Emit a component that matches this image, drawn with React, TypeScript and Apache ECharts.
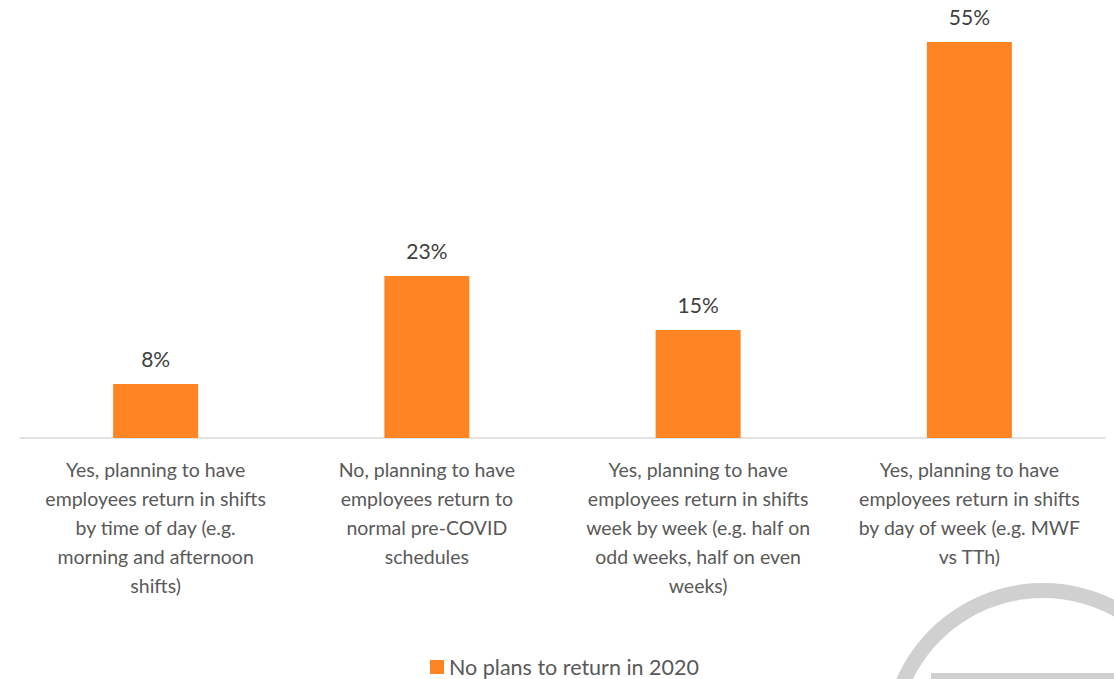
import React, { useEffect, useRef } from "react";
import * as echarts from "echarts";

const categories = [
  "Yes, planning to have\nemployees return in shifts\nby time of day (e.g.\nmorning and afternoon\nshifts)",
  "No, planning to have\nemployees return to\nnormal pre-COVID\nschedules",
  "Yes, planning to have\nemployees return in shifts\nweek by week (e.g. half on\nodd weeks, half on even\nweeks)",
  "Yes, planning to have\nemployees return in shifts\nby day of week (e.g. MWF\nvs TTh)",
];
const seriesName = "No plans to return in 2020";
const values = [7.5, 22.5, 15, 55];

const FONT = "Lato";

export default function App() {
  const ref = useRef<HTMLDivElement>(null);
  useEffect(() => {
    if (!ref.current) return;
    const chart = echarts.init(ref.current, undefined, { renderer: "svg" });
    chart.setOption({
      animation: false,
      backgroundColor: "#ffffff",
      textStyle: { fontFamily: FONT },
      grid: { left: 20, right: 9, top: 6, bottom: 241, containLabel: false },
      legend: {
        top: 651,
        left: 425,
        itemWidth: 14,
        itemHeight: 14,
        itemGap: 10,
        icon: "rect",
        textStyle: { color: "#595959", fontSize: 21.5, fontFamily: FONT },
        data: [seriesName],
      },
      xAxis: {
        type: "category",
        data: categories,
        axisLine: { show: true, lineStyle: { color: "#d9d9d9", width: 1.5 } },
        axisTick: { show: false },
        axisLabel: {
          interval: 0,
          color: "#595959",
          fontSize: 19.5,
          lineHeight: 29,
          margin: 17,
          fontFamily: FONT,
          align: "center",
        },
      },
      yAxis: {
        type: "value",
        min: 0,
        max: 60,
        show: false,
        splitLine: { show: false },
      },
      series: [
        {
          name: seriesName,
          type: "bar",
          data: values,
          barWidth: 85,
          itemStyle: { color: "#FF8424" },
          label: {
            show: true,
            position: "top",
            distance: 15,
            color: "#404040",
            fontSize: 21,
            fontFamily: FONT,
            formatter: (p: any) => Math.round(p.value) + "%",
          },
        },
      ],
      graphic: [
        {
          type: "ring",
          shape: { cx: 1043, cy: 743, r: 160, r0: 145 },
          style: { fill: "#d0d0d0" },
          silent: true,
        },
        {
          type: "rect",
          shape: { x: 931, y: 673, width: 200, height: 10 },
          style: { fill: "#d0d0d0" },
          silent: true,
        },
      ],
    });
    return () => chart.dispose();
  }, []);
  return (
    <div
      ref={ref}
      style={{ position: "fixed", left: 0, top: 0, width: 1114, height: 679 }}
    />
  );
}
